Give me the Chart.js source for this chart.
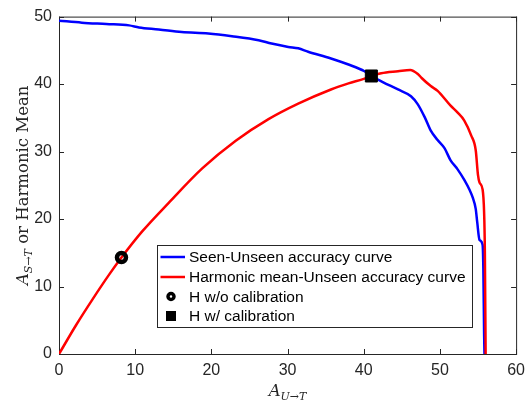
<!DOCTYPE html>
<html>
<head>
<meta charset="utf-8">
<script src="https://cdn.jsdelivr.net/npm/chart.js@4.4.0/dist/chart.umd.min.js"></script>
<style>
  html, body { margin: 0; padding: 0; background: #fff; }
  #wrap { position: relative; width: 532px; height: 403px; }
</style>
</head>
<body>
<div id="wrap"><canvas id="curveChart"></canvas></div>
<script>
// Seen-Unseen accuracy curve: A_U->T (x) vs A_S->T (y)
const seenU = [0, 3, 6.2, 9.2, 10.5, 13.1, 16.1, 19.6, 22.7, 26.2, 27.9, 30.1, 31.4, 32.7, 35.7, 38.0, 40.1, 41.0,
    42.5, 44.5, 46.2, 47.1, 48.0, 48.8, 49.7, 50.6, 51.4, 52.3, 53.2, 53.9, 54.3, 54.7, 54.9, 55.2, 55.6, 55.7, 55.8, 55.85];
const seenS = [49.4, 49.1, 48.9, 48.7, 48.4, 48.1, 47.7, 47.5, 47.1, 46.5, 46.0, 45.5, 45.3, 44.8, 43.8, 42.9, 41.9, 41.2,
    40.3, 39.2, 38.2, 37.0, 35.1, 33.1, 31.7, 30.5, 28.7, 27.4, 25.8, 24.3, 23.2, 21.5, 19.5, 16.9, 16.2, 12.7, 3.0, 0];

// Harmonic mean-Unseen accuracy curve
const hmU = [0, 2.25, 4.4, 6.6, 8.2, 10.95, 14.4, 18.8, 23.2, 27.5, 31.4, 35.7, 38.0, 40.1, 41.0, 42.3, 44.5, 46.1, 47.1, 47.6,
    48.8, 49.7, 51.4, 52.3, 53.2, 54.1, 54.7, 55.0, 55.2, 55.6, 55.8, 55.9, 56.0];
const hmH = [0, 4.3, 8.1, 11.8, 14.3, 18.2, 22.4, 27.5, 31.6, 34.8, 37.1, 39.2, 40.1, 40.8, 41.2, 41.6, 41.9, 42.1, 41.5, 40.9,
    39.7, 39.0, 36.8, 35.8, 34.6, 32.4, 30.2, 26.5, 25.4, 24.4, 21.0, 15.2, 0];

// H w/o calibration and H w/ calibration
const noCalibPoint = [8.2, 14.3];
const calibPoint = [41.0, 41.2];

const xTickValues = [0, 10, 20, 30, 40, 50, 60];
const yTickValues = [0, 10, 20, 30, 40, 50];

const toPoints = (xs, ys) => xs.map((x, i) => ({ x: x, y: ys[i] }));

const axisColor = '#262626';
const tickFont = { family: '"Liberation Sans", Arial, sans-serif', size: 16 };

// box around the axes + ticks pointing inwards (matlab style)
const frameTicks = {
    id: 'frameTicks',
    beforeDatasetsDraw(chart) {
        const { ctx, chartArea: a, scales } = chart;
        ctx.save();
        ctx.strokeStyle = axisColor;
        ctx.lineWidth = 1;
        ctx.beginPath();
        scales.x.ticks.forEach(t => {
            const px = Math.round(scales.x.getPixelForValue(t.value)) + 0.5;
            ctx.moveTo(px, a.bottom); ctx.lineTo(px, a.bottom - 5);
            ctx.moveTo(px, a.top); ctx.lineTo(px, a.top + 5);
        });
        scales.y.ticks.forEach(t => {
            const py = Math.round(scales.y.getPixelForValue(t.value)) + 0.5;
            ctx.moveTo(a.left, py); ctx.lineTo(a.left + 5, py);
            ctx.moveTo(a.right, py); ctx.lineTo(a.right - 5, py);
        });
        ctx.stroke();
        ctx.strokeRect(a.left + 0.5, a.top + 0.5, a.right - a.left, a.bottom - a.top);
        ctx.restore();
    }
};

// draw text made of pieces (main + subscript), centred on x
function drawParts(ctx, parts, x, y) {
    let w = 0;
    parts.forEach(p => { ctx.font = p.font; w += ctx.measureText(p.text).width; });
    let cx = x - w / 2;
    parts.forEach(p => {
        ctx.font = p.font;
        ctx.fillText(p.text, cx, y + p.dy);
        cx += ctx.measureText(p.text).width;
    });
}

// axis titles with subscripts
const axisTitles = {
    id: 'axisTitles',
    afterDraw(chart) {
        const { ctx, chartArea: a } = chart;
        const serif = '"DejaVu Serif", "Liberation Serif", serif';
        ctx.save();
        ctx.fillStyle = axisColor;
        ctx.textBaseline = 'alphabetic';
        ctx.textAlign = 'left';
        drawParts(ctx, [
            { text: 'A', font: 'italic 16.5px ' + serif, dy: 0 },
            { text: 'U\u2192T', font: 'italic 11px ' + serif, dy: 3.5 }
        ], (a.left + a.right) / 2, 396);
        ctx.translate(28, (a.top + a.bottom) / 2);
        ctx.rotate(-Math.PI / 2);
        drawParts(ctx, [
            { text: 'A', font: 'italic 16.5px ' + serif, dy: 0 },
            { text: 'S\u2192T', font: 'italic 11px ' + serif, dy: 3.5 },
            { text: ' or Harmonic Mean', font: '16.5px ' + serif, dy: 0 }
        ], 0, 0);
        ctx.restore();
    }
};

// legend box inside the plot, lower middle
const boxLegend = {
    id: 'boxLegend',
    afterDraw(chart) {
        const ctx = chart.ctx;
        const x0 = 157.5, y0 = 245.5, w = 315, h = 82;
        const rowY = [257, 277, 296.5, 316];
        ctx.save();
        ctx.fillStyle = '#fff';
        ctx.fillRect(x0, y0, w, h);
        ctx.strokeStyle = axisColor;
        ctx.lineWidth = 1;
        ctx.strokeRect(x0, y0, w, h);
        ctx.font = '15.5px "Liberation Sans", Arial, sans-serif';
        ctx.textBaseline = 'middle';
        ctx.textAlign = 'left';
        chart.data.datasets.forEach((ds, i) => {
            const y = rowY[i];
            if (ds.showLine) {
                ctx.strokeStyle = ds.borderColor;
                ctx.lineWidth = 2.5;
                ctx.beginPath();
                ctx.moveTo(160.5, y); ctx.lineTo(185, y);
                ctx.stroke();
            } else if (ds.pointStyle === 'circle') {
                ctx.strokeStyle = '#000';
                ctx.lineWidth = 3.5;
                ctx.beginPath();
                ctx.arc(171, y, 3, 0, Math.PI * 2);
                ctx.stroke();
            } else {
                ctx.fillStyle = '#000';
                ctx.fillRect(166, y - 5, 10, 10);
            }
            ctx.fillStyle = '#000';
            ctx.fillText(ds.label, 189, y + 1);
        });
        ctx.restore();
    }
};

const curveCanvas = document.getElementById('curveChart').getContext('2d');

new Chart(curveCanvas, {
    type: 'scatter',
    data: {
        datasets: [
            {
                label: 'Seen-Unseen accuracy curve',
                data: toPoints(seenU, seenS),
                showLine: true,
                borderColor: '#0000ff',
                borderWidth: 2.5,
                pointRadius: 0,
                cubicInterpolationMode: 'monotone',
                order: 4
            },
            {
                label: 'Harmonic mean-Unseen accuracy curve',
                data: toPoints(hmU, hmH),
                showLine: true,
                borderColor: '#ff0000',
                borderWidth: 2.5,
                pointRadius: 0,
                cubicInterpolationMode: 'monotone',
                order: 3
            },
            {
                label: 'H w/o calibration',
                data: [{ x: noCalibPoint[0], y: noCalibPoint[1] }],
                showLine: false,
                pointStyle: 'circle',
                pointRadius: 4.5,
                pointBorderWidth: 4.5,
                borderColor: '#000',
                backgroundColor: 'rgba(0,0,0,0)',
                order: 2
            },
            {
                label: 'H w/ calibration',
                data: [{ x: calibPoint[0], y: calibPoint[1] }],
                showLine: false,
                pointStyle: 'rect',
                pointRadius: 8.5,
                pointBorderWidth: 1,
                borderColor: '#000',
                backgroundColor: '#000',
                order: 1
            }
        ]
    },
    options: {
        responsive: true,
        maintainAspectRatio: false,
        animation: false,
        layout: { padding: { top: 11, right: 14, left: 0, bottom: 0 } },
        plugins: {
            legend: { display: false },
            tooltip: { enabled: false }
        },
        scales: {
            x: {
                type: 'linear',
                min: 0,
                max: 60,
                afterBuildTicks: scale => { scale.ticks = xTickValues.map(v => ({ value: v })); },
                afterFit: scale => { scale.height = 49; },
                grid: { display: false, drawTicks: false },
                border: { display: false },
                ticks: { color: axisColor, font: tickFont, padding: 7, maxRotation: 0 }
            },
            y: {
                type: 'linear',
                min: 0,
                max: 50,
                afterBuildTicks: scale => { scale.ticks = yTickValues.map(v => ({ value: v })); },
                afterFit: scale => { scale.width = 59; },
                grid: { display: false, drawTicks: false },
                border: { display: false },
                ticks: { color: axisColor, font: tickFont, padding: 7 }
            }
        }
    },
    plugins: [frameTicks, axisTitles, boxLegend]
});
</script>
</body>
</html>
